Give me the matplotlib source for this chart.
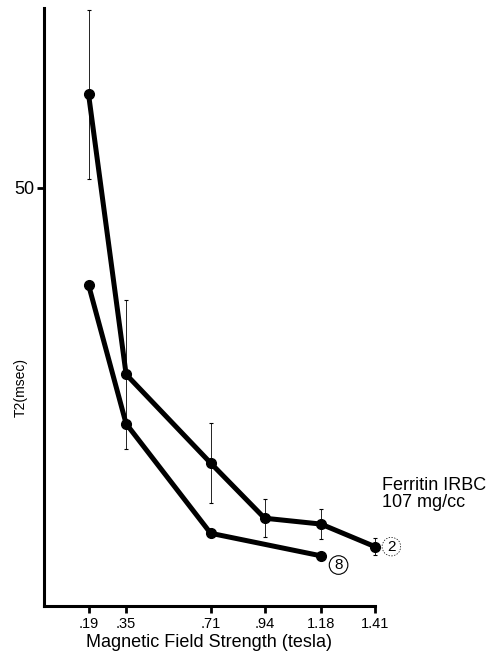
import matplotlib.pyplot as plt

# Pole magnetyczne (tesla)
pole = [0.19, 0.35, 0.71, 0.94, 1.18, 1.41]
tick_labels = [".19", ".35", ".71", ".94", "1.18", "1.41"]

# Seria "2"
pole_2 = [0.19, 0.35, 0.71, 0.94, 1.18, 1.41]
t2_2 = [61.2, 27.7, 17.1, 10.5, 9.8, 7.1]
blad_2 = [10.1, 8.9, 4.8, 2.3, 1.8, 1.0]

# Seria "8"
pole_8 = [0.19, 0.35, 0.71, 1.18]
t2_8 = [38.4, 21.8, 8.7, 6.0]

plt.rcParams['font.family'] = ['Liberation Sans', 'DejaVu Sans']

fig = plt.figure(figsize=(4.94, 6.54), dpi=100)
ax = fig.add_axes([0.089, 0.0734, 0.670, 0.914])

# Słupki błędów (cienkie)
ax.errorbar(pole_2, t2_2, yerr=blad_2, fmt='none', ecolor='black',
            elinewidth=0.6, capsize=1.5, capthick=0.8, clip_on=False)

# Linie z punktami
ax.plot(pole_2, t2_2, color='black', linewidth=3.6, marker='o',
        markersize=7, clip_on=False, solid_capstyle='round')
ax.plot(pole_8, t2_8, color='black', linewidth=3.6, marker='o',
        markersize=7, clip_on=False, solid_capstyle='round')

# Etykiety serii
ax.text(1.48, t2_2[-1], "2", fontsize=11, ha='center', va='center',
        bbox=dict(boxstyle='circle,pad=0.15', fc='none', ec='black',
                  lw=0.5, ls=(0, (2, 2))))
ax.text(1.255, t2_8[-1] - 1.1, "8", fontsize=11, ha='center', va='center',
        bbox=dict(boxstyle='circle,pad=0.15', fc='none', ec='black', lw=0.8))

ax.text(1.44, 13.4, "Ferritin IRBC\n107 mg/cc", fontsize=13,
        ha='left', va='center', linespacing=0.95)

ax.set_xlim(0, 1.41)
ax.set_ylim(0, 71.5)
ax.set_xticks(pole)
ax.set_xticklabels(tick_labels, fontsize=10.5)
ax.set_yticks([50])
ax.set_yticklabels(["50"], fontsize=13)

ax.spines['top'].set_visible(False)
ax.spines['right'].set_visible(False)
ax.spines['left'].set_linewidth(2.2)
ax.spines['bottom'].set_linewidth(2.2)
ax.tick_params(axis='both', direction='out', length=5, width=2, pad=2)
ax.tick_params(axis='x', pad=3)

ax.set_xlabel("Magnetic Field Strength (tesla)", fontsize=13, labelpad=2)
ax.set_ylabel("T2(msec)", fontsize=10)
ax.yaxis.set_label_coords(-0.05, 0.366)

fig.savefig("out.png", dpi=100)
